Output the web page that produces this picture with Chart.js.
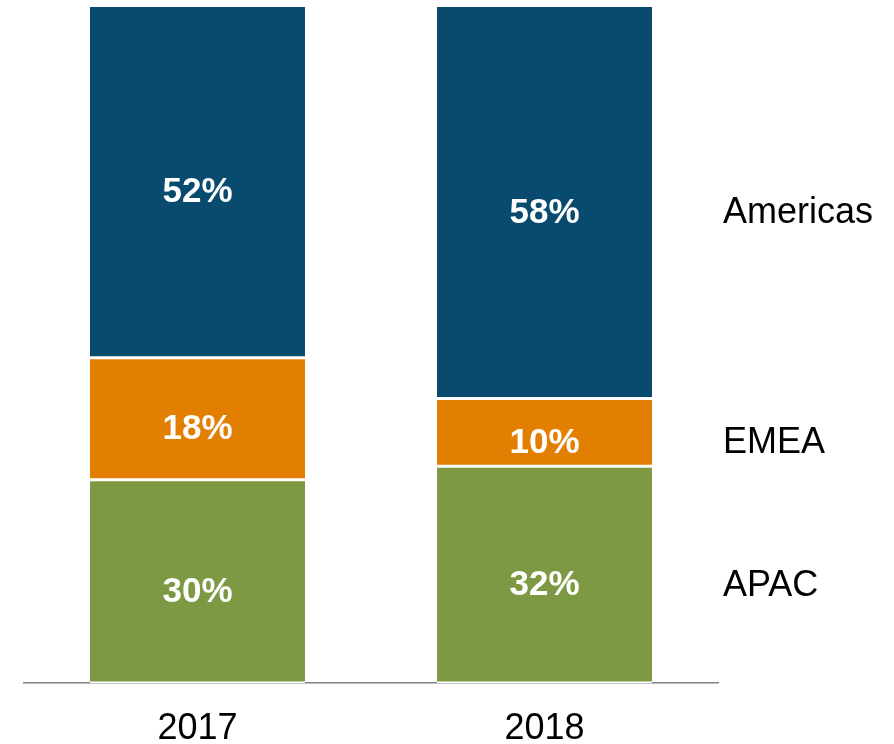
<!DOCTYPE html>
<html>
<head>
<meta charset="utf-8">
<script src="https://cdn.jsdelivr.net/npm/chart.js@4.4.1/dist/chart.umd.min.js"></script>
<style>
  html, body { margin: 0; padding: 0; background: #fff; }
  #wrap { width: 894px; height: 744px; }
</style>
</head>
<body>
<div id="wrap"><canvas id="regionChart" width="894" height="744"></canvas></div>
<script>
// share of revenue by region, percent
const years = ['2017', '2018'];
const apac = [30, 32];
const emea = [18, 10];
const americas = [52, 58];
const regionNames = ['APAC', 'EMEA', 'Americas'];

const FONT = '"Liberation Sans", Arial, sans-serif';

// white % labels inside each segment
const segmentLabels = {
    id: 'segmentLabels',
    afterDatasetsDraw(chart) {
        const ctx = chart.ctx;
        ctx.save();
        ctx.fillStyle = '#ffffff';
        ctx.font = 'bold 35px ' + FONT;
        ctx.textAlign = 'center';
        ctx.textBaseline = 'middle';
        chart.data.datasets.forEach((ds, i) => {
            chart.getDatasetMeta(i).data.forEach((bar, j) => {
                const mid = (bar.y + bar.base) / 2;
                ctx.fillText(ds.data[j] + '%', bar.x, mid + 11);
            });
        });
        ctx.restore();
    }
};

// region names at the right, next to the last bar
const regionLabels = {
    id: 'regionLabels',
    afterDatasetsDraw(chart) {
        const ctx = chart.ctx;
        ctx.save();
        ctx.fillStyle = '#000000';
        ctx.font = '36px ' + FONT;
        ctx.textAlign = 'left';
        ctx.textBaseline = 'middle';
        chart.data.datasets.forEach((ds, i) => {
            const meta = chart.getDatasetMeta(i);
            const bar = meta.data[meta.data.length - 1];
            ctx.fillText(ds.label, chart.chartArea.right + 5, (bar.y + bar.base) / 2 + 11);
        });
        ctx.restore();
    }
};

const segBorder = { top: 1.5, bottom: 1.5, left: 0, right: 0 };

new Chart(document.getElementById('regionChart'), {
    type: 'bar',
    data: {
        labels: years,
        datasets: [
            { label: regionNames[0], data: apac, backgroundColor: '#7d9944' },
            { label: regionNames[1], data: emea, backgroundColor: '#e37f00' },
            { label: regionNames[2], data: americas, backgroundColor: '#084b6e' }
        ].map(d => Object.assign(d, {
            borderColor: '#ffffff',
            borderWidth: segBorder,
            borderSkipped: false,
            barPercentage: 0.62,
            categoryPercentage: 1
        }))
    },
    options: {
        responsive: false,
        animation: false,
        devicePixelRatio: 1,
        layout: { padding: { left: 24, right: 176, top: 5.5, bottom: 0 } },
        plugins: {
            legend: { display: false },
            tooltip: { enabled: false }
        },
        scales: {
            x: {
                stacked: true,
                grid: { display: false, drawTicks: false },
                border: { display: true, color: '#808080', width: 1.5 },
                ticks: {
                    color: '#000000',
                    padding: 28,
                    font: { family: FONT, size: 36, lineHeight: 1 }
                },
                // keep the axis strip short so the plot reaches down to y=683
                afterFit(scale) { scale.height = 61; }
            },
            y: {
                stacked: true,
                display: false,
                min: 0,
                max: 100
            }
        }
    },
    plugins: [segmentLabels, regionLabels]
});
</script>
</body>
</html>
